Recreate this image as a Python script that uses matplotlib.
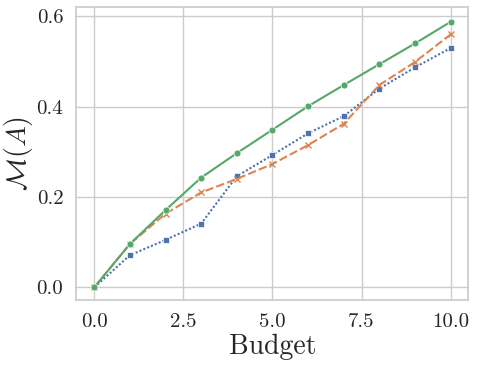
import matplotlib
matplotlib.use("Agg")
import matplotlib.pyplot as plt
import seaborn as sns

budget = [0, 1, 2, 3, 4, 5, 6, 7, 8, 9, 10]
green = [0.0, 0.096, 0.171, 0.243, 0.297, 0.349, 0.401, 0.448, 0.494, 0.540, 0.588]
orange = [0.0, 0.096, 0.163, 0.210, 0.240, 0.273, 0.315, 0.362, 0.448, 0.499, 0.560]
blue = [0.0, 0.071, 0.105, 0.141, 0.246, 0.293, 0.341, 0.379, 0.440, 0.487, 0.530]

sns.set_theme(style="whitegrid")
plt.rcParams['font.family'] = 'serif'
plt.rcParams['font.serif'] = ['cmr10']
plt.rcParams['mathtext.fontset'] = 'cm'
plt.rcParams['axes.formatter.use_mathtext'] = True
plt.rcParams['axes.unicode_minus'] = False

pal = sns.color_palette("deep")
fig, ax = plt.subplots(figsize=(4.78, 3.68), dpi=100)
ax.plot(budget, blue, color=pal[0], linestyle=(0, (1, 1)), marker='s', markersize=4,
        markeredgecolor='white', markeredgewidth=0.5, linewidth=1.5)
ax.plot(budget, orange, color=pal[1], linestyle=(0, (4, 1.5)), marker='x', markersize=5,
        linewidth=1.5)
ax.plot(budget, green, color=pal[2], linestyle='-', marker='o', markersize=5,
        markeredgecolor='white', markeredgewidth=0.5, linewidth=1.5)

ax.set_xticks([0, 2.5, 5.0, 7.5, 10.0])
ax.set_xticklabels(['0.0', '2.5', '5.0', '7.5', '10.0'])
ax.set_yticks([0.0, 0.2, 0.4, 0.6])
ax.set_yticklabels(['0.0', '0.2', '0.4', '0.6'])
ax.tick_params(labelsize=15)
ax.set_xlabel('Budget', fontsize=20, labelpad=2)
ax.set_ylabel(r'$\mathcal{M}(A)$', fontsize=20, labelpad=1)
ax.set_xlim(-0.5, 10.5)
ax.set_ylim(-0.028, 0.62)
fig.subplots_adjust(left=0.16, right=0.98, bottom=0.185, top=0.98)
fig.savefig('out.png', dpi=100)
